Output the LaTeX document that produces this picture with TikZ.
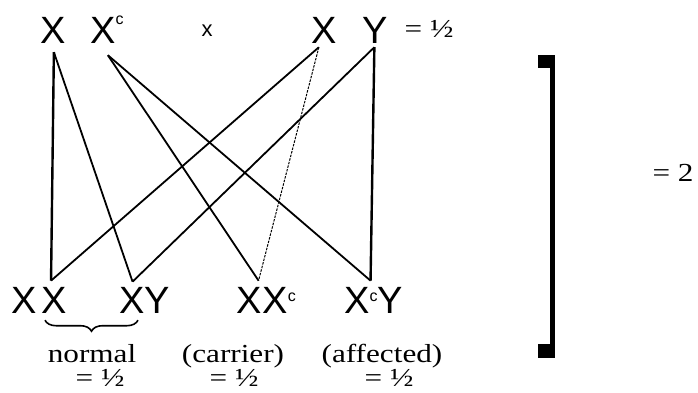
\documentclass[tikz,border=0pt]{standalone}
\usepackage{fontspec}
\setmainfont{Liberation Serif}
\newfontfamily\genefont{Liberation Sans}
\newfontfamily\notefont[FakeStretch=1.2]{Liberation Serif}
\usetikzlibrary{decorations.pathreplacing}

% small raised c for the carrier allele
\newcommand{\carc}[1]{\raisebox{#1}{\fontsize{16}{16}\selectfont c}}

\begin{document}
\begin{tikzpicture}[x=1pt, y=-1pt,
 gene/.style={inner sep=0pt, anchor=base west,
   font=\genefont\fontsize{38}{38}\selectfont},
 note/.style={inner sep=0pt, font=\notefont\fontsize{26}{28}\selectfont},
 cross_edge/.style={line width=1.8pt, line join=round},
 side_edge/.style={line width=2.4pt},
 carrier_edge/.style={line width=1pt, dash pattern=on 2.5pt off 1.2pt},
 brace_edge/.style={line width=1.6pt, decorate,
   decoration={brace, amplitude=11pt, mirror}}
]
\useasboundingbox (0,0) rectangle (698,392);

% parents' gametes
\node[gene] (ma) at (40,43) {X};
\node[gene] (mb) at (90,43) {X\carc{19pt}};
\node[font=\genefont\fontsize{22}{22}\selectfont, inner sep=0pt] (times) at (207,31) {x};
\node[gene] (fa) at (311,43) {X};
\node[gene] (fb) at (362,43) {Y};
\node[note] (half) at (429,29) {= ½};

% offspring
\node[gene] (oa) at (11,313) {X\kern5pt X};
\node[gene] (ob) at (119,313) {XY};
\node[gene] (oc) at (236,313) {X\kern1pt X\carc{12pt}};
\node[gene] (od) at (344,313) {X\carc{12pt}Y};

\node[note] (normal) at (92,354) {normal};
\node[note] (carrier) at (233,356) {(carrier)};
\node[note] (affected) at (382,356) {(affected)};
\node[note] (pa) at (100,378) {= ½};
\node[note] (pb) at (234,378) {= ½};
\node[note] (pc) at (389,378) {= ½};
\node[note] (total) at (673,173) {= 2};

\coordinate (ma-s) at ([xshift=1pt, yshift=-9pt]ma.south);
\coordinate (mb-s) at ([xshift=1pt, yshift=-12pt]mb.south);
\coordinate (fa-s) at ([xshift=-5pt, yshift=-4pt]fa.south);
\coordinate (fb-s) at ([xshift=-0.5pt, yshift=-4pt]fb.south);
\coordinate (oa-n) at ([xshift=12pt, yshift=6pt]oa.north);
\coordinate (ob-n) at ([xshift=-12pt, yshift=5pt]ob.north);
\coordinate (oc-n) at ([xshift=-7.5pt, yshift=6pt]oc.north);
\coordinate (od-n) at ([xshift=-3pt, yshift=6pt]od.north);
\coordinate (ba) at ([xshift=34pt, yshift=-7pt]oa.south west);
\coordinate (bb) at ([xshift=19pt, yshift=-7pt]ob.south west);

\draw[side_edge] (ma-s) -- (oa-n);
\draw[cross_edge] (ma-s) -- (ob-n);
\draw[cross_edge] (mb-s) -- (oc-n);
\draw[cross_edge] (mb-s) -- (od-n);
\draw[cross_edge] (fa-s) -- (oa-n);
\draw[carrier_edge] (fa-s) -- (oc-n);
\draw[cross_edge] (fb-s) -- (ob-n);
\draw[side_edge] (fb-s) -- (od-n);

\draw[brace_edge] (ba) -- (bb);

% closing bracket
\draw[line width=5pt] (552.5,56) -- (552.5,357);
\fill (538,55) rectangle (555,68);
\fill (538,344) rectangle (555,358);
\end{tikzpicture}
\end{document}
